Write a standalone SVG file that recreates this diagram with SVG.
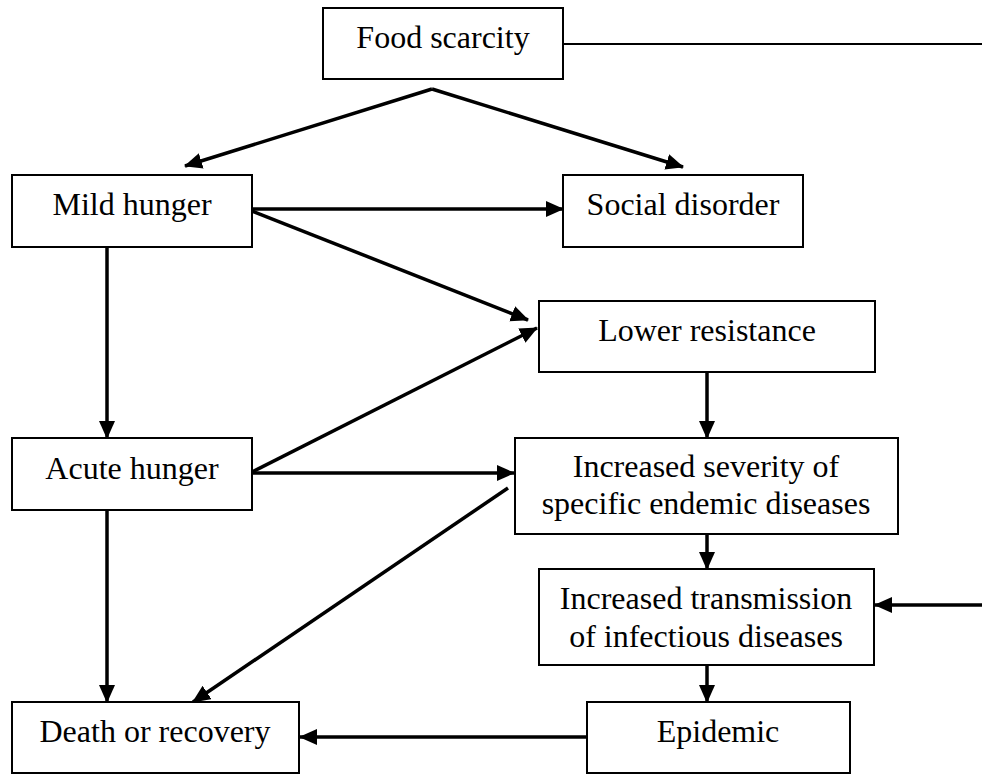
<svg xmlns="http://www.w3.org/2000/svg" width="982" height="774" viewBox="0 0 982 774">
<style>
  .box { fill: #ffffff; stroke: #000000; stroke-width: 2; }
  .lbl { font-family: "Liberation Serif", "Times New Roman", serif; font-size: 32px; fill: #000000; text-anchor: middle; }
  .edge { stroke: #000000; stroke-width: 3.5; fill: none; }
  .thin { stroke: #000000; stroke-width: 2; fill: none; }
</style>
<defs>
  <marker id="ah" markerUnits="userSpaceOnUse" markerWidth="20" markerHeight="18" refX="17" refY="8" orient="auto">
    <path d="M0,0 L18,8 L0,16 z" fill="#000000"/>
  </marker>
</defs>
<rect width="982" height="774" fill="#ffffff"/>
<g id="connectors">
  <line class="thin" x1="563" y1="44" x2="982" y2="44"/>
  <line class="edge" x1="432" y1="89" x2="185" y2="166" marker-end="url(#ah)"/>
  <line class="edge" x1="432" y1="89" x2="683" y2="167" marker-end="url(#ah)"/>
  <line class="edge" x1="247" y1="209" x2="563" y2="209" marker-end="url(#ah)"/>
  <line class="edge" x1="247" y1="209" x2="528" y2="320" marker-end="url(#ah)"/>
  <line class="edge" x1="107" y1="247" x2="107" y2="438" marker-end="url(#ah)"/>
  <line class="edge" x1="250" y1="473" x2="537" y2="328" marker-end="url(#ah)"/>
  <line class="edge" x1="250" y1="473" x2="514" y2="473" marker-end="url(#ah)"/>
  <line class="edge" x1="707" y1="365" x2="707" y2="438" marker-end="url(#ah)"/>
  <line class="edge" x1="508" y1="488" x2="193" y2="702" marker-end="url(#ah)"/>
  <line class="edge" x1="707" y1="534" x2="707" y2="569" marker-end="url(#ah)"/>
  <line class="edge" x1="982" y1="605" x2="875" y2="605" marker-end="url(#ah)"/>
  <line class="edge" x1="707" y1="653" x2="707" y2="702" marker-end="url(#ah)"/>
  <line class="edge" x1="587" y1="737" x2="300" y2="737" marker-end="url(#ah)"/>
  <line class="edge" x1="107" y1="510" x2="107" y2="702" marker-end="url(#ah)"/>
</g>
<g id="food-scarcity">
  <rect class="box" x="323" y="8" width="240" height="71"/>
  <text class="lbl" x="443" y="48">Food scarcity</text>
</g>
<g id="mild-hunger">
  <rect class="box" x="12" y="175" width="240" height="72"/>
  <text class="lbl" x="132" y="215">Mild hunger</text>
</g>
<g id="social-disorder">
  <rect class="box" x="563" y="175" width="240" height="72"/>
  <text class="lbl" x="683" y="215">Social disorder</text>
</g>
<g id="lower-resistance">
  <rect class="box" x="539" y="301" width="336" height="71"/>
  <text class="lbl" x="707" y="341">Lower resistance</text>
</g>
<g id="acute-hunger">
  <rect class="box" x="12" y="438" width="240" height="72"/>
  <text class="lbl" x="132" y="479">Acute hunger</text>
</g>
<g id="increased-severity">
  <rect class="box" x="515" y="438" width="383" height="96"/>
  <text class="lbl" x="706" y="477">Increased severity of</text>
  <text class="lbl" x="706" y="514">specific endemic diseases</text>
</g>
<g id="increased-transmission">
  <rect class="box" x="539" y="569" width="335" height="96"/>
  <text class="lbl" x="706" y="609">Increased transmission</text>
  <text class="lbl" x="706" y="647">of infectious diseases</text>
</g>
<g id="epidemic">
  <rect class="box" x="587" y="702" width="263" height="71"/>
  <text class="lbl" x="718" y="742">Epidemic</text>
</g>
<g id="death-or-recovery">
  <rect class="box" x="12" y="702" width="287" height="71"/>
  <text class="lbl" x="155" y="742">Death or recovery</text>
</g>
</svg>
